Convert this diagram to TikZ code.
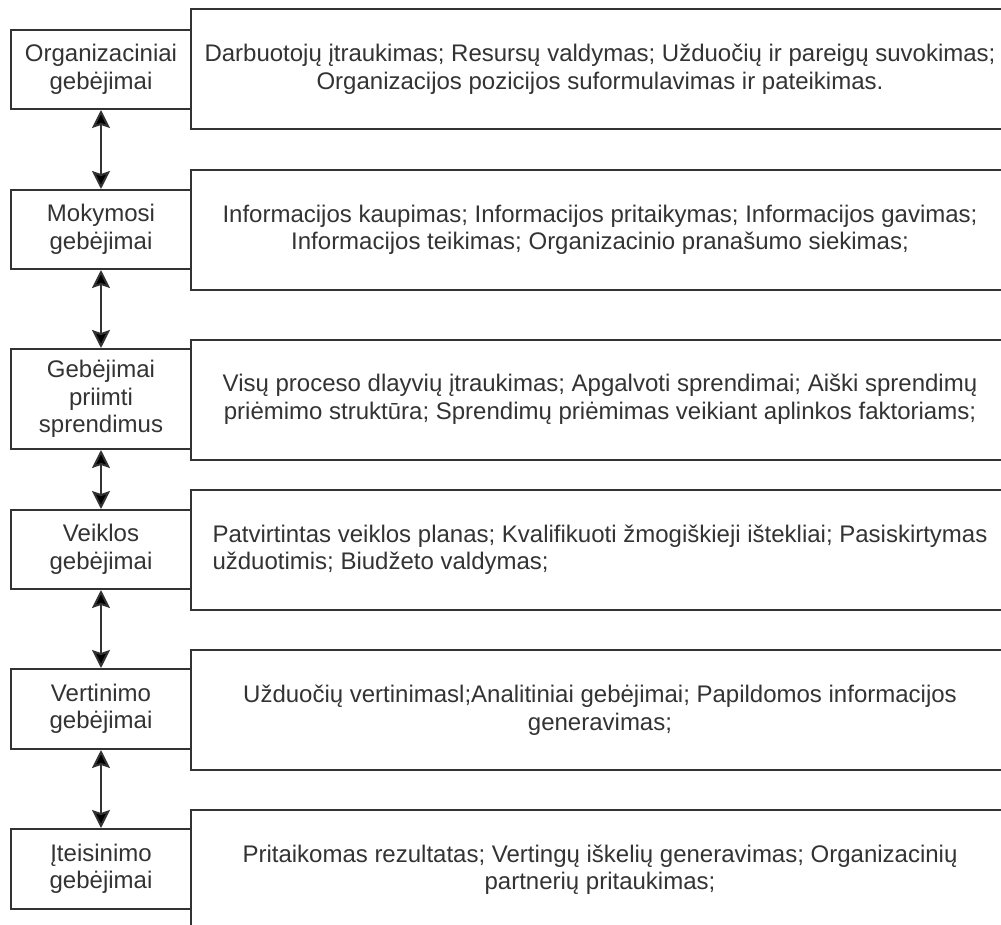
\documentclass[tikz,border=0pt]{standalone}
\usepackage{fontspec}
\setmainfont{Liberation Sans}
\usetikzlibrary{arrows.meta}
\definecolor{ink}{HTML}{333333}
\tikzset{
  base/.style={draw=ink, line width=2pt, text=ink, inner sep=0pt, fill=white,
    font=\fontsize{24}{27.5}\selectfont},
  leftbox/.style={base, minimum width=180pt, align=center},
  rightbox/.style={base, minimum width=818pt, minimum height=120pt, align=center},
  headtip/.tip={Stealth[length=18pt,width=18pt,inset=3pt,fill=black]},
  arr/.style={draw=ink, line width=2pt, arrows={headtip-headtip}},
}
\begin{document}
\begin{tikzpicture}[x=1pt,y=-1pt]
\useasboundingbox (0,0) rectangle (1001,925);
\fill[white] (0,0) rectangle (1001,925);
\clip (0,0) rectangle (1001,925);

% right boxes
\node[rightbox] (R1) at (600,69.5) {Darbuotojų įtraukimas; Resursų valdymas; Užduočių ir pareigų suvokimas;\\Organizacijos pozicijos suformulavimas ir pateikimas.};
\node[rightbox] (R2) at (600,230) {Informacijos kaupimas; Informacijos pritaikymas; Informacijos gavimas;\\Informacijos teikimas; Organizacinio pranašumo siekimas;};
\node[rightbox] (R3) at (600,399.5) {Visų proceso dlayvių įtraukimas; Apgalvoti sprendimai; Aiški sprendimų\\priėmimo struktūra; Sprendimų priėmimas veikiant aplinkos faktoriams;};
\node[rightbox, align=left] (R4) at (600,549.5) {Patvirtintas veiklos planas; Kvalifikuoti žmogiškieji ištekliai; Pasiskirtymas\\užduotimis; Biudžeto valdymas;};
\node[rightbox] (R5) at (600,710) {Užduočių vertinimasl;Analitiniai gebėjimai; Papildomos informacijos\\generavimas;};
\node[rightbox] (R6) at (600,870) {Pritaikomas rezultatas; Vertingų iškelių generavimas; Organizacinių\\partnerių pritaukimas;};

% left boxes
\node[leftbox, minimum height=79pt] (L1) at (101,69.5) {Organizaciniai\\gebėjimai};
\node[leftbox, minimum height=79pt] (L2) at (101,229.5) {Mokymosi\\gebėjimai};
\node[leftbox, minimum height=100pt] (L3) at (101,399) {Gebėjimai\\priimti\\sprendimus};
\node[leftbox, minimum height=79pt] (L4) at (101,549.5) {Veiklos\\gebėjimai};
\node[leftbox, minimum height=80pt] (L5) at (101,709) {Vertinimo\\gebėjimai};
\node[leftbox, minimum height=80pt] (L6) at (101,869) {Įteisinimo\\gebėjimai};

% connectors
\draw[arr] (L1.south) -- (L2.north);
\draw[arr] (L2.south) -- (L3.north);
\draw[arr] (L3.south) -- (L4.north);
\draw[arr] (L4.south) -- (L5.north);
\draw[arr] (L5.south) -- (L6.north);
\end{tikzpicture}
\end{document}
